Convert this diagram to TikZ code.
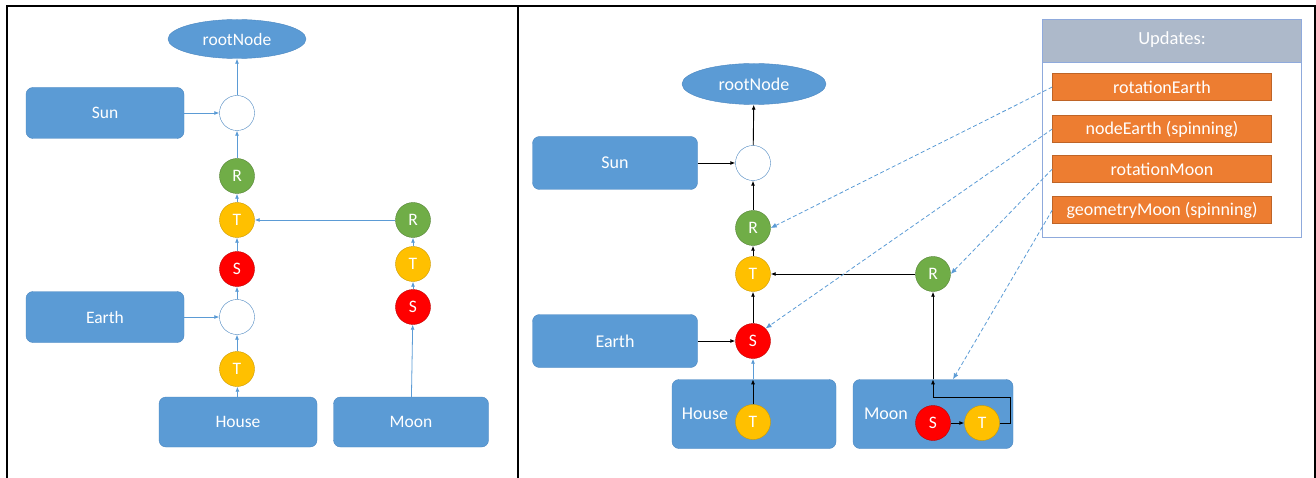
\documentclass[tikz,border=0pt]{standalone}
\usepackage{fontspec}
\setmainfont{Carlito}
\usetikzlibrary{shapes.geometric,positioning,arrows.meta}

\definecolor{boxblue}{HTML}{5B9BD5}
\definecolor{boxline}{HTML}{4A86C0}
\definecolor{rgreen}{HTML}{70AD47}
\definecolor{tyellow}{HTML}{FFC000}
\definecolor{sred}{HTML}{FF0000}
\definecolor{uorange}{HTML}{ED7D31}
\definecolor{ugray}{HTML}{ADB9CA}
\definecolor{uframe}{HTML}{8FAADC}

\tikzset{
  box/.style={draw=boxline, fill=boxblue, rounded corners=7pt, text=white, inner sep=0pt},
  rootell/.style={ellipse, draw=boxline, fill=boxblue, text=white, inner sep=0pt},
  knot/.style={circle, minimum size=35pt, inner sep=0pt, text=white, font=\fontsize{17.5}{19}\selectfont},
  rnode/.style={knot, draw=rgreen!75!black, fill=rgreen},
  tnode/.style={knot, draw=tyellow!80!black, fill=tyellow},
  snode/.style={knot, draw=sred!75!black, fill=sred},
  enode/.style={knot, draw=boxline, fill=white},
  upd/.style={draw=uorange!80!black, fill=uorange, text=white, minimum width=219pt, minimum height=27pt, inner sep=0pt, font=\fontsize{18}{20}\selectfont},
  lblue/.style={draw=boxblue, line width=0.8pt, -{Latex[length=5pt,width=4pt]}},
  blk/.style={draw=black, line width=0.9pt, -{Latex[length=5pt,width=4pt]}},
  dashblue/.style={draw=boxblue, line width=0.8pt, dash pattern=on 4pt off 2.5pt, -{Latex[length=6pt,width=5pt]}}
}

\begin{document}
\begin{tikzpicture}[x=1pt,y=-1pt]

    \useasboundingbox (0,0) rectangle (1316,478);

    % DRAW FRAME
    \draw[line width=2pt] (7,478) -- (7,6) -- (1315,6) -- (1315,478);
    \draw[line width=2pt] (518,6) -- (518,478);

    % LEFT PANEL: NODES
    \begin{scope}[font=\fontsize{17.5}{20}\selectfont]
    \node[rootell, minimum width=138pt, minimum height=39pt] (lroot) at (237,39) {rootNode};
    \node[box, minimum width=158pt, minimum height=51pt] (lsun) at (105,113) {Sun};
    \node[box, minimum width=158pt, minimum height=51pt] (learth) at (105,317) {Earth};
    \node[box, minimum width=158pt, minimum height=50pt] (lhouse) at (238,422) {House};
    \node[box, minimum width=155pt, minimum height=50pt] (lmoon) at (411,422) {Moon};
    \end{scope}
    \node[enode] (lsunc) at (237,113) {};
    \node[rnode] (lR) at (237,176) {R};
    \node[tnode] (lT) at (237,220) {T};
    \node[snode] (lS) at (237,269) {S};
    \node[enode] (learthc) at (237,317) {};
    \node[tnode] (lhT) at (237,369) {T};
    \node[rnode] (lmR) at (413,220) {R};
    \node[tnode] (lmT) at (413,264) {T};
    \node[snode] (lmS) at (413,307) {S};

    % LEFT PANEL: ARROWS
    \draw[lblue] (lsunc) -- (lroot);
    \draw[lblue] (lsun) -- (lsunc);
    \draw[lblue] (lR) -- (lsunc);
    \draw[lblue] (lT) -- (lR);
    \draw[lblue] (lmR) -- (lT);
    \draw[lblue] (lS) -- (lT);
    \draw[lblue] (learthc) -- (lS);
    \draw[lblue] (learth) -- (learthc);
    \draw[lblue] (lhT) -- (learthc);
    \draw[lblue] (lhouse) -- (lhT);
    \draw[lblue] (lmT) -- (lmR);
    \draw[lblue] (lmS) -- (lmT);
    \draw[lblue] (lmoon) -- (lmS);

    % RIGHT PANEL: NODES
    \begin{scope}[font=\fontsize{18}{20}\selectfont]
    \node[rootell, minimum width=144pt, minimum height=41pt] (rroot) at (754,84) {rootNode};
    \node[box, minimum width=165pt, minimum height=53pt] (rsun) at (615,163) {Sun};
    \node[box, minimum width=165pt, minimum height=53pt] (rearth) at (615,341) {Earth};
    \node[box, minimum width=164pt, minimum height=69pt] (rhouse) at (754,414) {};
    \node[box, minimum width=160pt, minimum height=69pt] (rmoon) at (933,414) {};
    \node[text=white] (rhlabel) at (705,414) {House};
    \node[text=white] (rmlabel) at (886,414) {Moon};
    \end{scope}
    \node[enode] (rsunc) at (753,163) {};
    \node[rnode] (rR) at (753,228) {R};
    \node[tnode] (rT) at (753,274) {T};
    \node[snode] (rS) at (753,341) {S};
    \node[rnode] (rmR) at (933,274) {R};
    \node[tnode] (rhT) at (753,422) {T};
    \node[snode] (rmS) at (933,423) {S};
    \node[tnode] (rmT) at (982,423) {T};
    \coordinate (htop) at (rhT |- rhouse.north);
    \coordinate (mtop) at (rmR |- rmoon.north);
    \coordinate (mturn) at (1010,397);

    % RIGHT PANEL: ARROWS
    \draw[blk] (rsunc) -- (rroot);
    \draw[blk] (rsun) -- (rsunc);
    \draw[blk] (rR) -- (rsunc);
    \draw[blk] (rT) -- (rR);
    \draw[blk] (rmR) -- (rT);
    \draw[blk] (rS) -- (rT);
    \draw[blk] (rearth) -- (rS);
    \draw[blk] (rhT) -- (htop);
    \draw[lblue] (htop) -- (rS);
    \draw[blk] (rmS) -- (rmT);
    \draw[blk] (rmT.east) -| (mturn) -| (mtop);
    \draw[blk] (mtop) -- (rmR);

    % UPDATES LIST
    \draw[uframe, fill=white] (1042,19) rectangle (1301,237);
    \draw[uframe, fill=ugray] (1042,19) rectangle (1301,62);
    \node[text=white, font=\fontsize{18.5}{20}\selectfont] (uhead) at (1172,40) {Updates:};
    \node[upd] (u1) at (1162,87) {rotationEarth};
    \node[upd] (u2) at (1162,129) {nodeEarth (spinning)};
    \node[upd] (u3) at (1162,169) {rotationMoon};
    \node[upd] (u4) at (1162,210) {geometryMoon (spinning)};

    % DASHED UPDATE ARROWS
    \draw[dashblue] (u1.west) -- (rR.east);
    \draw[dashblue] (u2.west) -- (rS.north east);
    \draw[dashblue] (u3.west) -- (rmR.east);
    \draw[dashblue] (u4.west) -- ([xshift=20pt]rmoon.north);

\end{tikzpicture}
\end{document}
